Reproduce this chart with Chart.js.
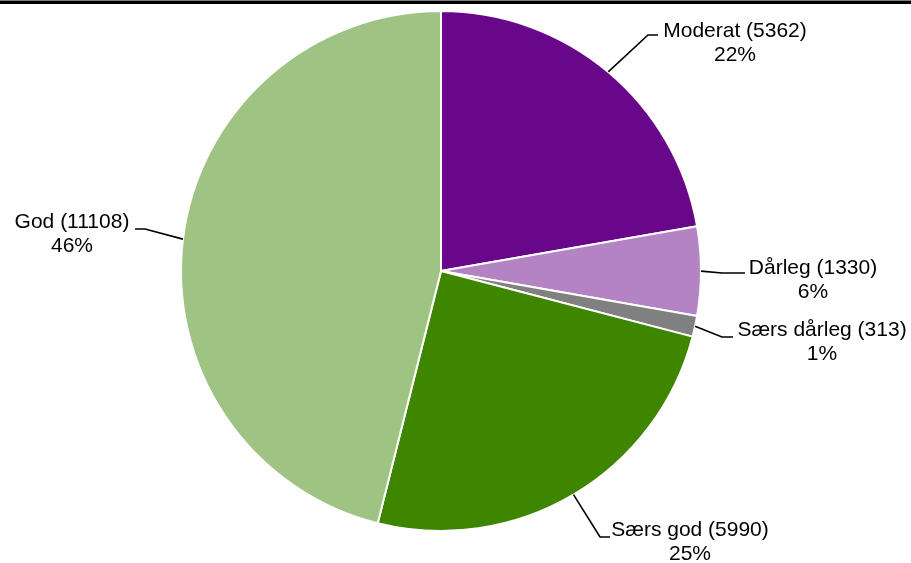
<!DOCTYPE html>
<html>
<head>
<meta charset="utf-8">
<script src="https://cdn.jsdelivr.net/npm/chart.js@4"></script>
<style>
  html, body { margin: 0; padding: 0; background: #fff; }
  #wrap { width: 911px; height: 563px; position: relative; }
</style>
</head>
<body>
<div id="wrap"><canvas id="pie"></canvas></div>
<script>
const categories = ['Moderat', 'Dårleg', 'Særs dårleg', 'Særs god', 'God'];
const counts = [5362, 1330, 313, 5990, 11108];
const colors = ['#68078a', '#b383c4', '#808080', '#3e8500', '#9fc383'];

// where each label sits: elbow of the leader, end of the leader, text centre
const labelSpots = [
  { elbow: [648, 35], end: [658, 35], text: [735, 31] },
  { elbow: [722, 273], end: [745, 273], text: [813, 268] },
  { elbow: [722, 337], end: [733, 337], text: [822, 330] },
  { elbow: [600, 537], end: [610, 537], text: [690, 530] },
  { elbow: [145, 229], end: [135, 229], text: [72, 222] }
];

const topRule = {
  id: 'topRule',
  beforeDraw(chart) {
    const ctx = chart.ctx;
    ctx.save();
    ctx.fillStyle = '#000';
    ctx.fillRect(0, 0.5, chart.width, 3.5);
    ctx.restore();
  }
};

const leaderLabels = {
  id: 'leaderLabels',
  afterDatasetsDraw(chart) {
    const ctx = chart.ctx;
    const meta = chart.getDatasetMeta(0);
    const total = counts.reduce((a, b) => a + b, 0);
    ctx.save();
    meta.data.forEach((arc, i) => {
      const spot = labelSpots[i];
      const mid = (arc.startAngle + arc.endAngle) / 2;
      const sx = arc.x + Math.cos(mid) * arc.outerRadius;
      const sy = arc.y + Math.sin(mid) * arc.outerRadius;
      ctx.strokeStyle = '#000';
      ctx.lineWidth = 1.6;
      ctx.beginPath();
      ctx.moveTo(sx, sy);
      ctx.lineTo(spot.elbow[0], spot.elbow[1]);
      ctx.lineTo(spot.end[0], spot.end[1]);
      ctx.stroke();

      ctx.fillStyle = '#000';
      ctx.font = '21px "Liberation Sans", Arial, sans-serif';
      ctx.textAlign = 'center';
      ctx.textBaseline = 'middle';
      const pct = Math.round(counts[i] / total * 100) + '%';
      ctx.fillText(categories[i] + ' (' + counts[i] + ')', spot.text[0], spot.text[1]);
      ctx.fillText(pct, spot.text[0], spot.text[1] + 24);
    });
    ctx.restore();
  }
};

new Chart(document.getElementById('pie'), {
  type: 'pie',
  data: {
    labels: categories,
    datasets: [{
      data: counts,
      backgroundColor: colors,
      borderColor: '#fff',
      borderWidth: 2
    }]
  },
  options: {
    responsive: true,
    maintainAspectRatio: false,
    animation: false,
    layout: { padding: { top: 10, bottom: 31, left: 150, right: 179 } },
    plugins: {
      legend: { display: false },
      tooltip: { enabled: false }
    }
  },
  plugins: [topRule, leaderLabels]
});
</script>
</body>
</html>
